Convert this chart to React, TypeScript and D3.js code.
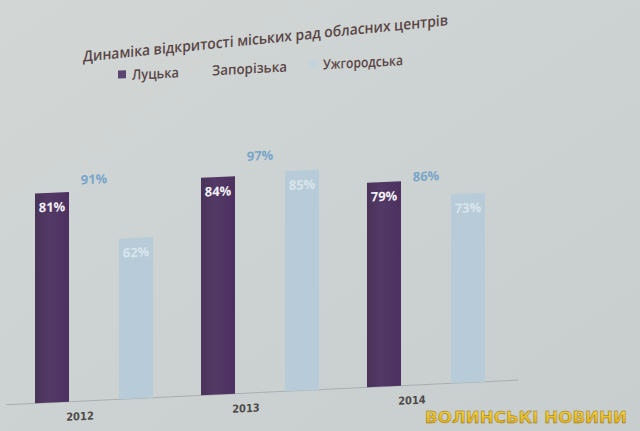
import React, { useRef, useEffect } from "react";
import * as d3 from "d3";

const years = ["2012", "2013", "2014"];
const seriesNames = ["Луцька", "Запорізька", "Ужгородська"];
const lutsk = [81, 84, 79];
const zaporizhzhia = [91, 97, 86];
const uzhhorod = [62, 85, 73];
const title = "Динаміка відкритості міських рад обласних центрів";
const watermark = "ВОЛИНСЬКІ НОВИНИ";

function App() {
    const ref = useRef(null);

    useEffect(() => {
        draw();
    }, []);

    const draw = () => {
        const svg = d3.select(ref.current);
        svg.selectAll("*").remove();
        let width = 640;
        let height = 431;

        const defs = svg.append("defs");
        const bg = defs.append("linearGradient").attr("id", "bg")
            .attr("x1", 0).attr("y1", 0).attr("x2", 1).attr("y2", 1);
        bg.append("stop").attr("offset", "0%").attr("stop-color", "#d2d7d6");
        bg.append("stop").attr("offset", "100%").attr("stop-color", "#c7cecd");
        const purple = defs.append("linearGradient").attr("id", "purple")
            .attr("x1", 0).attr("y1", 0).attr("x2", 1).attr("y2", 0);
        purple.append("stop").attr("offset", "0%").attr("stop-color", "#4a3358");
        purple.append("stop").attr("offset", "40%").attr("stop-color", "#533966");
        purple.append("stop").attr("offset", "100%").attr("stop-color", "#4c3160");
        const gold = defs.append("linearGradient").attr("id", "gold")
            .attr("x1", 0).attr("y1", 0).attr("x2", 0).attr("y2", 1);
        gold.append("stop").attr("offset", "0%").attr("stop-color", "#f7d84a");
        gold.append("stop").attr("offset", "100%").attr("stop-color", "#d9a510");

        svg.append("rect").attr("width", width).attr("height", height).attr("fill", "url(#bg)");

        // colours per series (Запорізька is white on the slide, so its bars vanish)
        const colors = ["url(#purple)", "none", "#b7ccd8"];
        const labelColors = ["#f4f1f6", "#79a5c9", "#d9e5ec"];
        const values = [lutsk, zaporizhzhia, uzhhorod];

        // title, slanted like the photo
        svg.append("g")
            .attr("transform", "translate(0,70) skewY(-5.7)")
            .append("text")
            .attr("x", 83).attr("y", 0)
            .attr("textLength", 365)
            .attr("lengthAdjust", "spacingAndGlyphs")
            .attr("font-family", "Open Sans")
            .attr("font-weight", 600)
            .attr("font-size", 15)
            .attr("fill", "#5a4646")
            .text(title);

        // legend
        const legend = svg.append("g").attr("transform", "translate(0,87) skewY(-3.1)");
        const legendX = [132, 212, 323];
        const legendW = [47, 75, 80];
        seriesNames.forEach((name, i) => {
            if (i !== 1) {
                legend.append("rect")
                    .attr("x", legendX[i] - 14).attr("y", -10)
                    .attr("width", 8).attr("height", 8)
                    .attr("fill", i === 0 ? "#5b4672" : "#c3d4dc");
            }
            legend.append("text")
                .attr("x", legendX[i]).attr("y", 0)
                .attr("textLength", legendW[i])
                .attr("lengthAdjust", "spacingAndGlyphs")
                .attr("font-family", "Open Sans")
                .attr("font-weight", 600)
                .attr("font-size", 14)
                .attr("fill", "#5a4646")
                .text(name);
        });

        // axes
        let x0 = d3.scaleBand().domain(years).range([35, 485]).paddingInner(0.289);
        let x1 = d3.scaleBand().domain(seriesNames).range([0, x0.bandwidth()]).paddingInner(0.19);
        let y = d3.scaleLinear().domain([0, 100]).range([0, -259]);

        const plot = svg.append("g").attr("transform", "translate(0,405) skewY(-2.75)");

        plot.append("line")
            .attr("x1", 6).attr("x2", 518)
            .attr("y1", 0).attr("y2", 0)
            .attr("stroke", "#a8afb0").attr("stroke-width", 1);

        years.forEach((yr, gi) => {
            const g = plot.append("g").attr("transform", "translate(" + x0(yr) + ",0)");
            seriesNames.forEach((s, si) => {
                const v = values[si][gi];
                const bx = x1(s);
                const bw = x1.bandwidth();
                if (colors[si] !== "none") {
                    g.append("rect")
                        .attr("x", bx).attr("y", y(v))
                        .attr("width", bw).attr("height", -y(v))
                        .attr("fill", colors[si]);
                }
                g.append("text")
                    .attr("x", bx + bw / 2).attr("y", y(v) + 19)
                    .attr("text-anchor", "middle")
                    .attr("font-family", "Open Sans")
                    .attr("font-weight", 700)
                    .attr("font-size", 13)
                    .attr("fill", labelColors[si])
                    .text(v + "%");
            });
            g.append("text")
                .attr("x", x0.bandwidth() / 2 - 14).attr("y", 19)
                .attr("text-anchor", "middle")
                .attr("font-family", "DejaVu Sans Condensed")
                .attr("font-weight", 700)
                .attr("font-size", 11)
                .attr("fill", "#4e4a4a")
                .text(yr);
        });

        // watermark
        svg.append("text")
            .attr("x", 425).attr("y", 423)
            .attr("textLength", 202)
            .attr("lengthAdjust", "spacingAndGlyphs")
            .attr("font-family", "DejaVu Sans")
            .attr("font-weight", 700)
            .attr("font-size", 16)
            .attr("fill", "url(#gold)")
            .attr("stroke", "#8a6a10")
            .attr("stroke-width", 0.4)
            .text(watermark);
    };

    return (
        <svg ref={ref} width={640} height={431}
            style={{ position: "absolute", left: 0, top: 0, display: "block" }}></svg>
    );
}

export default App;
